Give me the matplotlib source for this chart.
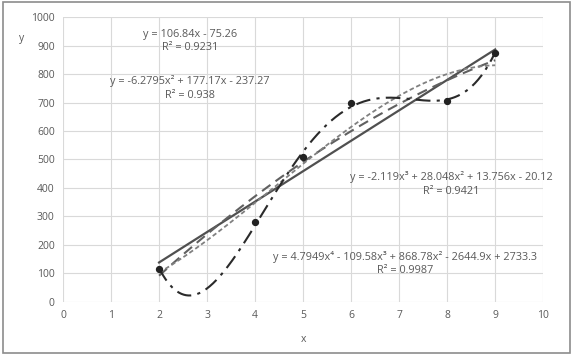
import numpy as np
import matplotlib
matplotlib.use("Agg")
import matplotlib.pyplot as plt
from matplotlib.patches import Rectangle

# observed points
x_obs = [2, 4, 5, 6, 8, 9]
y_obs = [115, 280, 510, 700, 705, 875]

# trendline coefficients as printed on the chart (highest power first)
lin_coef = [106.84, -75.26]
quad_coef = [-6.2795, 177.17, -237.27]
cub_coef = [-2.119, 28.048, 13.756, -20.12]
quart_coef = [4.7949, -109.58, 868.78, -2644.9, 2733.3]

lin_label = "y = 106.84x - 75.26\nR² = 0.9231"
quad_label = "y = -6.2795x² + 177.17x - 237.27\nR² = 0.938"
cub_label = "y = -2.119x³ + 28.048x² + 13.756x - 20.12\nR² = 0.9421"
quart_label = "y = 4.7949x⁴ - 109.58x³ + 868.78x² - 2644.9x + 2733.3\nR² = 0.9987"

TXT = "#595959"
plt.rcParams["font.family"] = ["Open Sans", "DejaVu Sans"]

fig = plt.figure(figsize=(5.73, 3.56), dpi=100)
fig.patches.append(Rectangle((0.006, 0.008), 0.988, 0.986, transform=fig.transFigure,
                             fill=False, edgecolor="#8c8c8c", lw=1.2))
ax = fig.add_axes([0.110, 0.152, 0.838, 0.800])

xs = np.linspace(min(x_obs), max(x_obs), 300)
ax.plot(xs, np.polyval(lin_coef, xs), color="#505050", lw=1.6, ls="-")
ax.plot(xs, np.polyval(quad_coef, xs), color="#606060", lw=1.5, ls=(0, (5, 3)))
ax.plot(xs, np.polyval(cub_coef, xs), color="#808080", lw=1.3, ls=(0, (2.5, 1.5)))
ax.plot(xs, np.polyval(quart_coef, xs), color="#2a2a2a", lw=1.5, ls=(0, (7, 3, 1.5, 3)))
ax.scatter(x_obs, y_obs, s=18, color="#222222", zorder=5)

ax.set_xlim(0, 10)
ax.set_ylim(0, 1000)
ax.set_xticks(range(0, 11))
ax.set_yticks(range(0, 1001, 100))
ax.grid(color="#d9d9d9", lw=0.8)
ax.set_axisbelow(True)
for s in ax.spines.values():
    s.set_visible(False)
ax.tick_params(length=0, labelsize=7.5, labelcolor=TXT, pad=6)

fs = 7.8
ax.text(2.65, 915, lin_label, ha="center", va="center", fontsize=fs, color=TXT, linespacing=1.3)
ax.text(2.65, 751, quad_label, ha="center", va="center", fontsize=fs, color=TXT, linespacing=1.3)
ax.text(8.08, 414, cub_label, ha="center", va="center", fontsize=fs, color=TXT, linespacing=1.3)
ax.text(7.12, 135, quart_label, ha="center", va="center", fontsize=fs, color=TXT, linespacing=1.3)

fig.text(22 / 573, 1 - 38 / 356, "y", fontsize=7.5, color=TXT, ha="center", va="center")
fig.text(303 / 573, 1 - 340 / 356, "x", fontsize=7.5, color=TXT, ha="center", va="center")

fig.savefig("out.png", dpi=100)
